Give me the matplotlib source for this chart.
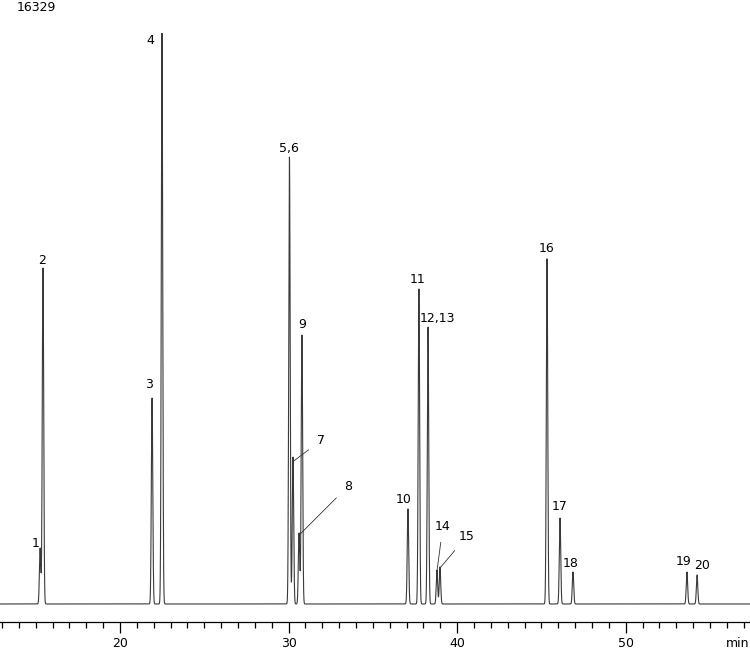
import numpy as np
import matplotlib.pyplot as plt
from matplotlib.ticker import MultipleLocator

# peak table (retention time in min, height in counts)
peak_labels = ['1', '2', '3', '4', '5,6', '7', '8', '9', '10', '11', '12,13',
               '14', '15', '16', '17', '18', '19', '20']
peak_times = [15.26, 15.43, 21.90, 22.49, 30.05, 30.26, 30.62, 30.79, 37.08,
              37.73, 38.27, 38.80, 38.98, 45.33, 46.10, 46.87, 53.63, 54.23]
peak_heights = [1600, 9610, 5890, 16329, 12780, 4200, 2030, 7690, 2720, 9010,
                7920, 970, 1060, 9870, 2460, 915, 915, 830]
max_counts = 16329

# label placement relative to the peak apex, in pixels
label_offsets = {'1': (-5, 5), '2': (-1, 7), '3': (-3, 14), '4': (-12, -7),
                 '5,6': (-1, 9), '7': (28, 21), '8': (49, 49), '9': (0, 11),
                 '10': (-4, 9), '11': (-1, 9), '12,13': (9, 9), '14': (6, 45),
                 '15': (27, 32), '16': (0, 10), '17': (0, 11), '18': (-2, 8),
                 '19': (-3, 10), '20': (5, 9)}
leader = {'7', '8', '14', '15'}

t = np.linspace(12.8, 57.5, 20000)
sigma = 0.042
signal = np.zeros_like(t)
for rt, h in zip(peak_times, peak_heights):
    signal += h * np.exp(-0.5 * ((t - rt) / sigma) ** 2)

fig = plt.figure(figsize=(7.5, 6.49), dpi=100)
ax = fig.add_axes([0, 27 / 649, 1, 589 / 649])
ax.plot(t, signal, color='#3a3a3a', lw=0.8)
ax.set_xlim(12.88, 57.37)
ax.set_ylim(-515, max_counts)

for s in ['top', 'left', 'right']:
    ax.spines[s].set_visible(False)
ax.spines['bottom'].set_linewidth(0.9)
ax.set_yticks([])
ax.xaxis.set_major_locator(MultipleLocator(10))
ax.xaxis.set_minor_locator(MultipleLocator(1))
ax.tick_params(axis='x', which='major', length=8, width=0.9, labelsize=9, pad=3)
ax.tick_params(axis='x', which='minor', length=4, width=0.9)

for lab, rt, h in zip(peak_labels, peak_times, peak_heights):
    dx, dy = label_offsets[lab]
    if lab in leader:
        ax.annotate(lab, xy=(rt, h * 0.97), xytext=(dx, dy),
                    textcoords='offset pixels', ha='center', va='center',
                    fontsize=9,
                    arrowprops=dict(arrowstyle='-', lw=0.6, color='#333333',
                                    shrinkA=5, shrinkB=0))
    else:
        ax.annotate(lab, xy=(rt, h), xytext=(dx, dy),
                    textcoords='offset pixels', ha='center', va='center',
                    fontsize=9)

fig.text(17 / 750, 1 - 11 / 649, '16329', fontsize=9, va='baseline', ha='left')
fig.text(749 / 750, 1 - 647 / 649, 'min', fontsize=9, va='baseline', ha='right')

fig.savefig('out.png', dpi=100)
